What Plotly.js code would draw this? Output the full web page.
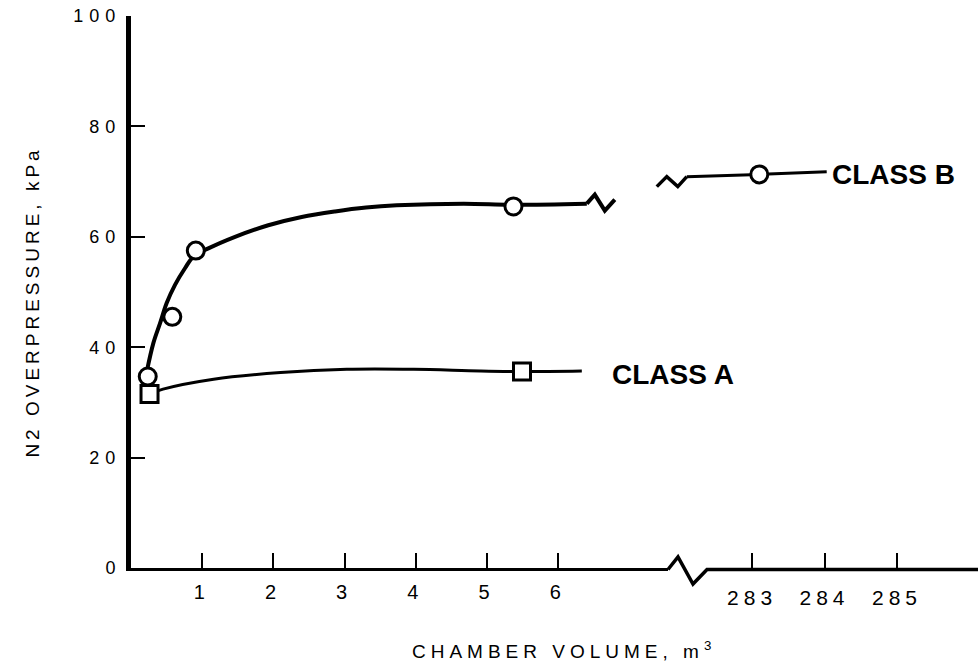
<!DOCTYPE html>
<html><head><meta charset="utf-8">
<script src="https://cdn.plot.ly/plotly-3.0.1.min.js"></script>
<style>
html,body{margin:0;padding:0;background:#fff;}
#chart{width:978px;height:666px;}
.ytick text{letter-spacing:6px;}
.xtick text{letter-spacing:6px;}
.x2tick text{letter-spacing:5px;}
.g-ytitle text{letter-spacing:4px;}
.g-ytitle{transform:translateY(10px);}
g.annotation[data-index="0"] text{letter-spacing:5px;}
</style></head><body><div id="chart"></div>
<script>
// ---- data ----
const classB_x = [0.235, 0.58, 0.91, 5.37];
const classB_y = [34.7, 45.5, 57.5, 65.5];
const classB_curve_x = [0.22, 0.313, 0.407, 0.501, 0.618, 0.758, 0.875, 1.086, 1.461, 1.928, 2.397, 2.865, 3.30, 3.73, 4.67, 5.37, 6.40];
const classB_curve_y = [35.5, 40.7, 44.3, 48.0, 51.3, 54.3, 56.4, 57.9, 60.0, 62.1, 63.6, 64.6, 65.3, 65.7, 66.0, 65.8, 66.0];
const classB_far_x = [283.1];
const classB_far_y = [71.3];
const classB_far_curve_x = [282.10, 283.1, 284.03];
const classB_far_curve_y = [70.9, 71.3, 71.8];
const classA_x = [0.26, 5.49];
const classA_y = [31.5, 35.6];
const classA_curve_x = [0.26, 0.45, 1.16, 2.10, 3.03, 3.97, 4.90, 5.49, 6.33];
const classA_curve_y = [31.5, 32.4, 34.2, 35.4, 36.0, 36.0, 35.7, 35.6, 35.7];
const yTicks = [0, 20, 40, 60, 80, 100];
const xTicksLow = [1, 2, 3, 4, 5, 6];
const xTicksHigh = [283, 284, 285];
const labelB = 'CLASS B';
const labelA = 'CLASS A';
const xTitle = 'CHAMBER VOLUME, m<sup>3</sup>';
const yTitle = 'N2 OVERPRESSURE, kPa';

const FONT = 'Liberation Sans, Arial, Helvetica, sans-serif';
const BLACK = '#000';

const lineTrace = (x, y, w, xa) => ({
  x, y, xaxis: xa, yaxis: 'y', type: 'scatter', mode: 'lines',
  line: {color: BLACK, width: w, shape: 'spline', smoothing: 1},
  hoverinfo: 'skip', showlegend: false
});
const markTrace = (x, y, sym, xa) => ({
  x, y, xaxis: xa, yaxis: 'y', type: 'scatter', mode: 'markers',
  marker: {symbol: sym, size: 17, color: '#fff', line: {color: BLACK, width: 3}},
  hoverinfo: 'skip', showlegend: false, cliponaxis: false
});

const data = [
  lineTrace(classB_curve_x, classB_curve_y, 4, 'x'),
  lineTrace(classA_curve_x, classA_curve_y, 3, 'x'),
  lineTrace(classB_far_curve_x, classB_far_curve_y, 3, 'x2'),
  markTrace(classB_x, classB_y, 'circle', 'x'),
  markTrace(classA_x, classA_y, 'square', 'x'),
  markTrace(classB_far_x, classB_far_y, 'circle', 'x2')
];

const axBase = {
  showgrid: false, zeroline: false, linecolor: BLACK,
  ticks: 'inside', tickcolor: BLACK, fixedrange: true
};

const layout = {
  width: 978, height: 666,
  margin: {l: 131, r: 0, t: 16, b: 98},
  paper_bgcolor: '#fff', plot_bgcolor: '#fff',
  showlegend: false, hovermode: false,
  font: {family: FONT, color: BLACK},
  xaxis: Object.assign({}, axBase, {
    domain: [0, 0.634], range: [0, 7.54], anchor: 'y', showline: true,
    tickvals: xTicksLow, ticktext: xTicksLow.map(String),
    ticklen: 15, tickwidth: 2, linewidth: 3,
    tickfont: {family: FONT, size: 20, color: BLACK}, ticklabelstandoff: 4
  }),
  xaxis2: Object.assign({}, axBase, {
    domain: [0.6128, 1], range: [281.593, 286.117], anchor: 'y', showline: false,
    tickvals: xTicksHigh, ticktext: xTicksHigh.map(String),
    ticklen: 15, tickwidth: 2,
    tickfont: {family: FONT, size: 21, color: BLACK}, ticklabelstandoff: 15
  }),
  yaxis: Object.assign({}, axBase, {
    range: [0, 100], tickvals: yTicks, ticktext: yTicks.map(String), showline: true,
    ticklen: 14, tickwidth: 2, linewidth: 5,
    tickfont: {family: FONT, size: 18, color: BLACK}, ticklabelstandoff: 1,
    automargin: true,
    title: {text: yTitle, font: {family: FONT, size: 19, color: BLACK}, standoff: 30}
  }),
  annotations: [
    {xref: 'paper', yref: 'paper', x: 0.511, y: -0.1486, text: xTitle, showarrow: false,
     xanchor: 'center', yanchor: 'middle', font: {family: FONT, size: 19, color: BLACK}},
    {xref: 'x2', yref: 'y', x: 284.08, y: 71.2, text: labelB, showarrow: false,
     xanchor: 'left', yanchor: 'middle', font: {family: FONT, size: 28, color: BLACK, weight: 700}},
    {xref: 'x', yref: 'y', x: 6.72, y: 35.1, text: labelA, showarrow: false,
     xanchor: 'left', yanchor: 'middle', font: {family: FONT, size: 28, color: BLACK, weight: 700}}
  ],
  shapes: [
    // x axis line after the break, with the break mark
    {type: 'path', xref: 'paper', yref: 'paper', xsizemode: 'pixel', ysizemode: 'pixel',
     xanchor: 0.634, yanchor: 0, path: 'M0,-1.5 L10,11 L25,-16 L39,-1.5 L310,-1.5',
     line: {color: BLACK, width: 3.5}},
    // break marks on the CLASS B curve
    {type: 'path', xref: 'x', yref: 'y', xsizemode: 'pixel', ysizemode: 'pixel',
     xanchor: 6.40, yanchor: 66.0, path: 'M0,0 L8,9 L18,-7 L28,4',
     line: {color: BLACK, width: 4}},
    {type: 'path', xref: 'x2', yref: 'y', xsizemode: 'pixel', ysizemode: 'pixel',
     xanchor: 282.10, yanchor: 70.9, path: 'M-30,-10 L-20,0 L-9,-10 L0,0',
     line: {color: BLACK, width: 3.5}}
  ]
};

Plotly.newPlot('chart', data, layout, {displayModeBar: false, staticPlot: true});
</script></body></html>
